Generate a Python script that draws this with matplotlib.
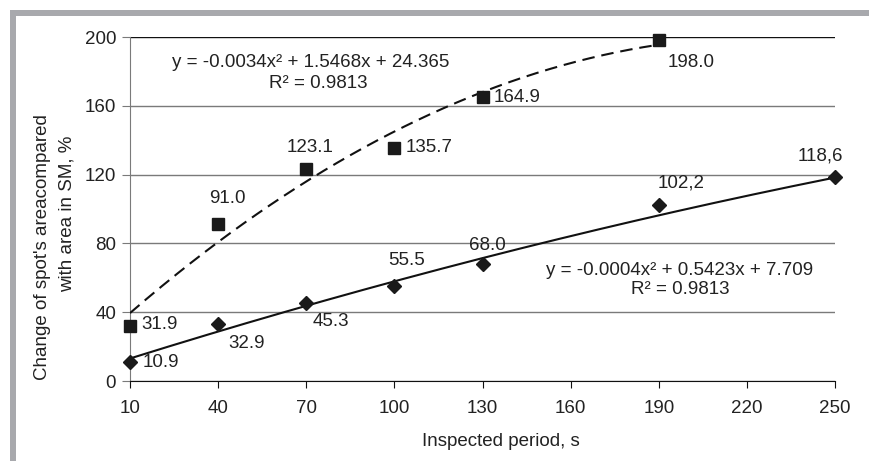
import numpy as np
import matplotlib.pyplot as plt
from matplotlib.patches import Rectangle

plt.rcParams['font.family'] = ['Liberation Sans', 'DejaVu Sans']
plt.rcParams['font.size'] = 13.5

W, H = 869, 461

# Datos
x_inf = [10, 40, 70, 100, 130, 190, 250]
y_inf = [10.9, 32.9, 45.3, 55.5, 68.0, 102.2, 118.6]
lab_inf = ['10.9', '32.9', '45.3', '55.5', '68.0', '102,2', '118,6']

x_sup = [10, 40, 70, 100, 130, 190]
y_sup = [31.9, 91.0, 123.1, 135.7, 164.9, 198.0]
lab_sup = ['31.9', '91.0', '123.1', '135.7', '164.9', '198.0']

# coeficientes de las lineas de tendencia (tal como aparecen en la grafica)
coef_sup = [-0.0034, 1.5468, 24.365]
coef_inf = [-0.0004, 0.5423, 7.709]
r2_sup = 0.9813
r2_inf = 0.9813

x_ticks = [10, 40, 70, 100, 130, 160, 190, 220, 250]
y_ticks = [0, 40, 80, 120, 160, 200]

# posiciones de etiquetas (offset en pixeles, alineacion)
off_inf = [((13, 0), 'left'), ((10, -19), 'left'), ((6, -18), 'left'), ((12, 25), 'center'),
           ((5, 19), 'center'), ((22, 22), 'center'), ((-15, 21), 'center')]
off_sup = [((11, 2), 'left'), ((9, 26), 'center'), ((4, 22), 'center'), ((11, 0), 'left'),
           ((11, 0), 'left'), ((9, -22), 'left')]


def fx(px):
    return px / W


def fy(py):
    return 1 - py / H


def ecuacion(c):
    return 'y = %.4fx² + %.4fx + %s' % (c[0], c[1], str(c[2]))


fig = plt.figure(figsize=(W / 100, H / 100), dpi=100)
ax = fig.add_axes([fx(130), fy(381), 705 / W, 344 / H])

texto = '#222222'
gris = '#7a7a7a'

# marco gris
fig.add_artist(Rectangle((fx(10), fy(16)), 1 - fx(10), 6 / H, transform=fig.transFigure,
                         color='#a8a9ad', lw=0))
fig.add_artist(Rectangle((fx(10), 0), 6 / W, fy(10), transform=fig.transFigure,
                         color='#a8a9ad', lw=0))

# lineas de tendencia
xs_sup = np.linspace(x_sup[0], x_sup[-1], 200)
ax.plot(xs_sup, np.polyval(coef_sup, xs_sup), color='#111111', lw=1.5, dashes=(6, 3.3), zorder=3)
xs_inf = np.linspace(x_inf[0], x_inf[-1], 200)
ax.plot(xs_inf, np.polyval(coef_inf, xs_inf), color='#111111', lw=1.5, zorder=3)

# puntos
ax.plot(x_sup, y_sup, 's', color='#1a1a1a', ms=8, ls='none', zorder=4, clip_on=False)
ax.plot(x_inf, y_inf, 'D', color='#1a1a1a', ms=7, ls='none', zorder=4, clip_on=False)

for xv, yv, t, (o, ha) in zip(x_inf, y_inf, lab_inf, off_inf):
    ax.annotate(t, (xv, yv), xytext=o, textcoords='offset pixels', ha=ha, va='center',
                color=texto, annotation_clip=False)
for xv, yv, t, (o, ha) in zip(x_sup, y_sup, lab_sup, off_sup):
    ax.annotate(t, (xv, yv), xytext=o, textcoords='offset pixels', ha=ha, va='center',
                color=texto, annotation_clip=False)

# ecuaciones
fig.text(fx(311), fy(62), ecuacion(coef_sup), ha='center', va='center', color=texto)
fig.text(fx(318), fy(83), 'R² = %.4f' % r2_sup, ha='center', va='center', color=texto)
fig.text(fx(680), fy(270), ecuacion(coef_inf), ha='center', va='center', color=texto)
fig.text(fx(680), fy(289), 'R² = %.4f' % r2_inf, ha='center', va='center', color=texto)

# ejes
ax.set_xlim(10, 250)
ax.set_ylim(0, 200)
ax.set_xticks(x_ticks)
ax.set_yticks(y_ticks)
ax.yaxis.grid(True, color=gris, lw=1.0)
ax.set_axisbelow(True)
for s in ['top', 'right']:
    ax.spines[s].set_visible(False)
ax.spines['left'].set_color(gris)
ax.spines['bottom'].set_color('#111111')
ax.tick_params(axis='x', length=5, color='#111111', pad=9, labelcolor=texto)
ax.tick_params(axis='y', length=6, color=gris, pad=4, labelcolor=texto)
ax.get_ygridlines()[-1].set_color('#111111')

fig.text(fx(501), fy(441), 'Inspected period, s', ha='center', va='center', color=texto)
fig.text(fx(43), fy(380), "Change of spot's areacompared", rotation=90, ha='center',
         va='bottom', color=texto)
fig.text(fx(67), fy(214), 'with area in SM, %', rotation=90, ha='center', va='center',
         color=texto)

fig.savefig('out.png', dpi=100)
